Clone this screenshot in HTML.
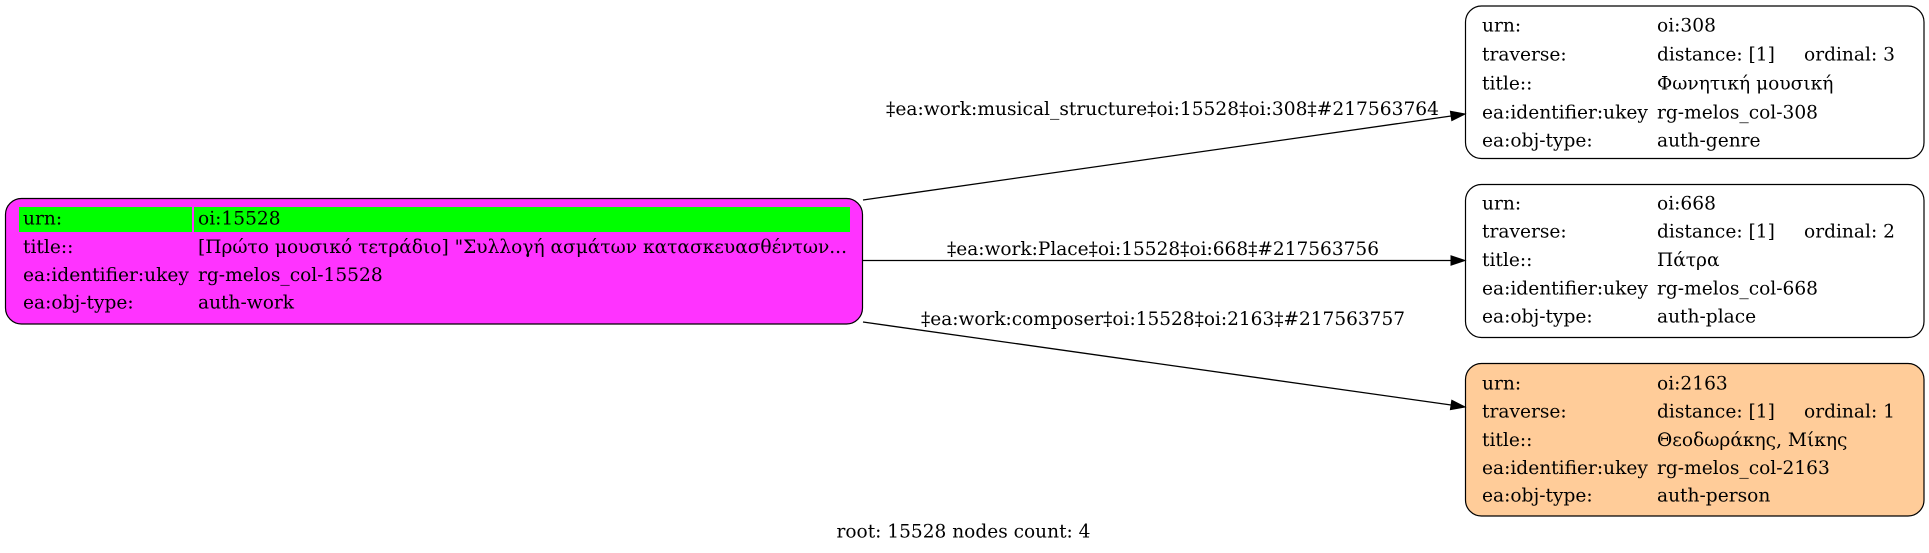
<!DOCTYPE html>
<html>
<head>
<meta charset="utf-8">
<style>
  html, body { margin: 0; padding: 0; background: #ffffff; }
  svg { display: block; }
  text { font-family: "DejaVu Serif", "Liberation Serif", serif; font-size: 18.6px; fill: #000; }
</style>
</head>
<body>
<svg width="1929" height="553" viewBox="0 0 1929 553" xmlns="http://www.w3.org/2000/svg">
  <rect x="0" y="0" width="1929" height="553" fill="#ffffff"/>

  <!-- Root node -->
  <rect x="5.5" y="198.5" width="857" height="125.5" rx="16" ry="16" fill="#ff33ff" stroke="#000" stroke-width="1.2"/>
  <rect x="19" y="207" width="173" height="25" fill="#00ff00"/>
  <rect x="194" y="207" width="656" height="25" fill="#00ff00"/>
  <text x="23" y="224.5">urn:</text>
  <text x="198" y="224.5">oi:15528</text>
  <text x="23" y="253">title::</text>
  <text x="198" y="253" textLength="649" lengthAdjust="spacingAndGlyphs">[Πρώτο μουσικό τετράδιο] "Συλλογή ασμάτων κατασκευασθέντων...</text>
  <text x="23" y="281">ea:identifier:ukey</text>
  <text x="198" y="281">rg-melos_col-15528</text>
  <text x="23" y="308.5">ea:obj-type:</text>
  <text x="198" y="308.5">auth-work</text>

  <!-- Node 1 -->
  <rect x="1465.5" y="6" width="458.5" height="152.5" rx="16" ry="16" fill="#ffffff" stroke="#000" stroke-width="1.2"/>
  <text x="1482" y="31.7">urn:</text>
  <text x="1657" y="31.7">oi:308</text>
  <text x="1482" y="60.7">traverse:</text>
  <text x="1657" y="60.7">distance: [1]</text>
  <text x="1804" y="60.7">ordinal: 3</text>
  <text x="1482" y="89.3">title::</text>
  <text x="1657" y="89.3">Φωνητική μουσική</text>
  <text x="1482" y="118.3">ea:identifier:ukey</text>
  <text x="1657" y="118.3">rg-melos_col-308</text>
  <text x="1482" y="146.7">ea:obj-type:</text>
  <text x="1657" y="146.7">auth-genre</text>

  <!-- Node 2 -->
  <rect x="1465.5" y="184.5" width="458.5" height="153" rx="16" ry="16" fill="#ffffff" stroke="#000" stroke-width="1.2"/>
  <text x="1482" y="209.3">urn:</text>
  <text x="1657" y="209.3">oi:668</text>
  <text x="1482" y="237.7">traverse:</text>
  <text x="1657" y="237.7">distance: [1]</text>
  <text x="1804" y="237.7">ordinal: 2</text>
  <text x="1482" y="266">title::</text>
  <text x="1657" y="266">Πάτρα</text>
  <text x="1482" y="294.3">ea:identifier:ukey</text>
  <text x="1657" y="294.3">rg-melos_col-668</text>
  <text x="1482" y="322.7">ea:obj-type:</text>
  <text x="1657" y="322.7">auth-place</text>

  <!-- Node 3 -->
  <rect x="1465.5" y="363.5" width="458.5" height="152.5" rx="16" ry="16" fill="#ffcc99" stroke="#000" stroke-width="1.2"/>
  <text x="1482" y="389.3">urn:</text>
  <text x="1657" y="389.3">oi:2163</text>
  <text x="1482" y="417.7">traverse:</text>
  <text x="1657" y="417.7">distance: [1]</text>
  <text x="1804" y="417.7">ordinal: 1</text>
  <text x="1482" y="446">title::</text>
  <text x="1657" y="446">Θεοδωράκης, Μίκης</text>
  <text x="1482" y="474">ea:identifier:ukey</text>
  <text x="1657" y="474">rg-melos_col-2163</text>
  <text x="1482" y="501.7">ea:obj-type:</text>
  <text x="1657" y="501.7">auth-person</text>

  <!-- Edges -->
  <line x1="863" y1="200" x2="1451.1" y2="116" stroke="#000" stroke-width="1.3"/>
  <polygon points="1465,114 1451.8,120.6 1450.4,111.3" fill="#000" stroke="#000" stroke-width="1"/>

  <line x1="863" y1="260.5" x2="1451" y2="260.5" stroke="#000" stroke-width="1.3"/>
  <polygon points="1465,260.5 1451,255.8 1451,265.2" fill="#000" stroke="#000" stroke-width="1"/>

  <line x1="863" y1="322" x2="1451.1" y2="405" stroke="#000" stroke-width="1.3"/>
  <polygon points="1465,407 1451.8,400.3 1450.4,409.6" fill="#000" stroke="#000" stroke-width="1"/>

  <!-- Edge labels -->
  <text x="886" y="115" textLength="553" lengthAdjust="spacingAndGlyphs">‡ea:work:musical_structure‡oi:15528‡oi:308‡#217563764</text>
  <text x="947" y="255" textLength="432" lengthAdjust="spacingAndGlyphs">‡ea:work:Place‡oi:15528‡oi:668‡#217563756</text>
  <text x="921" y="325" textLength="484" lengthAdjust="spacingAndGlyphs">‡ea:work:composer‡oi:15528‡oi:2163‡#217563757</text>

  <!-- Graph label -->
  <text x="836.5" y="537.3" textLength="254" lengthAdjust="spacingAndGlyphs">root: 15528 nodes count: 4</text>
</svg>
</body>
</html>
